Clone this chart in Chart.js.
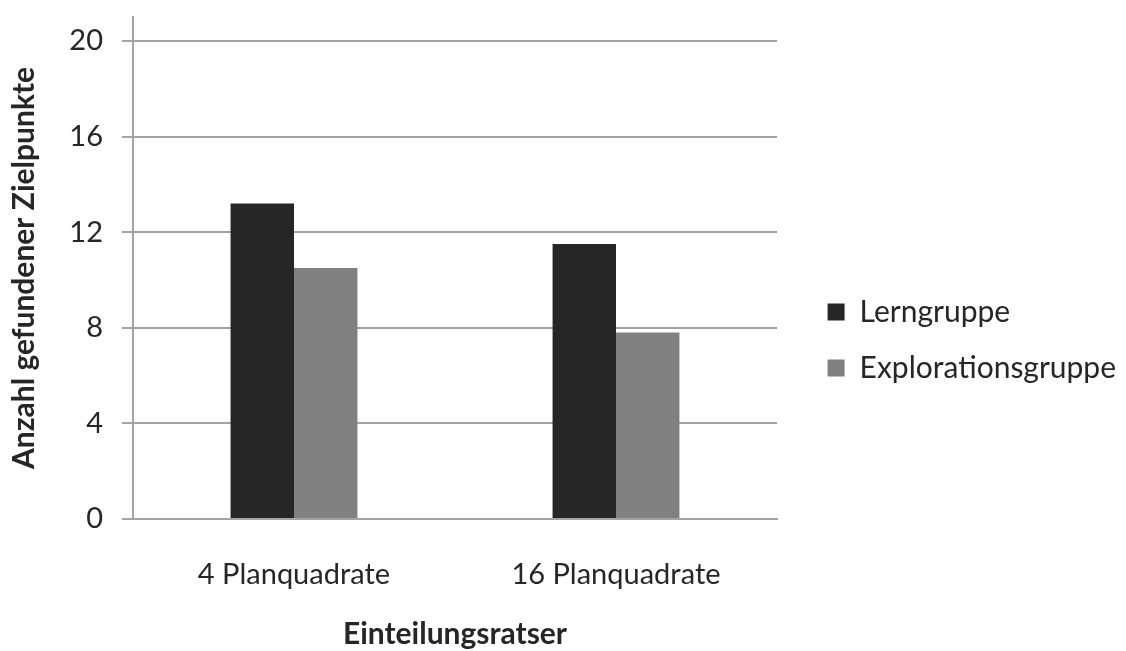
<!DOCTYPE html>
<html lang="de">
<head>
<meta charset="utf-8">
<title>Gefundene Zielpunkte nach Einteilungsraster</title>
<script src="https://cdn.jsdelivr.net/npm/chart.js@4/dist/chart.umd.min.js"></script>
<style>
  html, body { margin: 0; padding: 0; background: #ffffff; overflow: hidden; }
  #wrap { width: 1126px; height: 651px; }
</style>
</head>
<body>
<div id="wrap"><canvas id="chart" width="1126" height="651"></canvas></div>
<script>
// Kategorien der x-Achse
const categories = ['4 Planquadrate', '16 Planquadrate'];

// Mittlere Anzahl gefundener Zielpunkte je Gruppe
const lerngruppe = [13.2, 11.5];
const explorationsgruppe = [10.5, 7.8];

// Beschriftungen
const seriesNames = ['Lerngruppe', 'Explorationsgruppe'];
const xTitle = 'Einteilungsratser';
const yTitle = 'Anzahl gefundener Zielpunkte';

// Skala der y-Achse
const yMin = 0;
const yMax = 21;
const yStep = 4;

const FONT = 'Lato, "Open Sans", "DejaVu Sans", sans-serif';
const TEXT = '#262626';
const GRID = '#a3a3a3';
const PLOT_RIGHT = 777;   // rechter Rand der Diagrammfläche
const EDGE = 0;           // Außenabstand rechts

new Chart(document.getElementById('chart'), {
  type: 'bar',
  data: {
    labels: categories,
    datasets: [
      { label: seriesNames[0], data: lerngruppe, backgroundColor: '#262626', borderWidth: 0 },
      { label: seriesNames[1], data: explorationsgruppe, backgroundColor: '#808080', borderWidth: 0 }
    ]
  },
  options: {
    responsive: false,
    animation: false,
    categoryPercentage: 0.394,
    barPercentage: 1.0,
    layout: { padding: { top: 17, left: 6, right: EDGE, bottom: 0 } },
    plugins: {
      tooltip: { enabled: false },
      legend: {
        position: 'right',
        maxWidth: 500,
        // leere Titelzeile rückt die Einträge etwas nach unten
        title: { display: true, text: '', padding: 0, font: { size: 10 } },
        labels: {
          color: TEXT,
          font: { family: FONT, size: 30 },
          boxWidth: 17,
          boxHeight: 17,
          padding: 26
        }
      }
    },
    scales: {
      x: {
        grid: { display: false, drawTicks: false },
        border: { display: true, color: GRID, width: 2 },
        ticks: {
          color: TEXT,
          font: { family: FONT, size: 29 },
          padding: 38,
          maxRotation: 0
        },
        title: {
          display: true,
          text: xTitle,
          color: TEXT,
          font: { family: FONT, size: 30, weight: 'bold', lineHeight: 1.1 },
          padding: { top: 0, bottom: 0 }
        },
        afterFit(scale) { scale.height = 132; }
      },
      y: {
        min: yMin,
        max: yMax,
        grid: { color: GRID, lineWidth: 2, drawTicks: true, tickLength: 11, tickColor: GRID },
        border: { display: true, color: GRID, width: 2 },
        ticks: {
          stepSize: yStep,
          includeBounds: false,
          color: TEXT,
          font: { family: FONT, size: 29 },
          padding: 19
        },
        title: {
          display: true,
          text: yTitle,
          color: TEXT,
          font: { family: FONT, size: 30, weight: 'bold' },
          padding: { top: 0, bottom: 0 }
        },
        afterFit(scale) {
          scale.width = 127;
          scale.paddingTop = 0;
          scale.paddingBottom = 0;
        }
      },
      // Leerspalte zwischen Diagrammfläche und Legende
      gap: {
        type: 'linear',
        position: 'right',
        display: true,
        grid: { display: false, drawTicks: false },
        border: { display: false },
        ticks: { display: false },
        afterFit(scale) {
          const lg = scale.chart.legend;
          const w = lg && lg.width ? scale.chart.width - EDGE - lg.width - PLOT_RIGHT : 20;
          scale.width = Math.max(0, w);
        }
      }
    }
  }
});
</script>
</body>
</html>
